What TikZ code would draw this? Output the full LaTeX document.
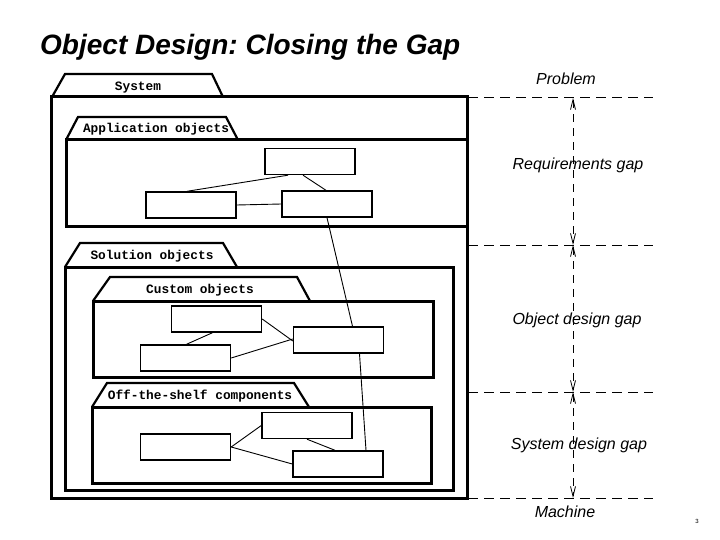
\documentclass[tikz,border=0pt]{standalone}
\usepackage{fontspec}
\setmainfont{Liberation Sans}
\newfontfamily\pkgfont{Liberation Mono}
\usetikzlibrary{arrows.meta}
\frenchspacing
\begin{document}
\begin{tikzpicture}[x=1pt,y=-1pt,
  pkg/.style={line width=3pt, line join=miter},
  tab/.style={line width=2.2pt, line join=miter},
  pkglabel/.style={font=\pkgfont\bfseries\fontsize{12.8}{15}\selectfont, inner sep=0pt},
  obj/.style={draw, line width=1.4pt, minimum width=90pt, minimum height=26pt, inner sep=0pt, fill=white},
  link/.style={line width=0.9pt},
  level/.style={line width=1pt, dash pattern=on 10pt off 6pt},
  gapline/.style={line width=0.8pt, dash pattern=on 8pt off 6pt, {Straight Barb[length=10pt,width=5pt]}-{Straight Barb[length=10pt,width=5pt]}},
  gaplabel/.style={font=\itshape\fontsize{16}{18}\selectfont, inner sep=1pt}]
\useasboundingbox (0,0) rectangle (720,540);

% title
\node[anchor=west, font=\bfseries\itshape\fontsize{28}{30}\selectfont, inner sep=0pt] (title) at (40,47) {Object Design: Closing the Gap};

% System package
\draw[tab] (52,97) -- (65,74) -- (212,74) -- (223,97);
\draw[pkg] (51,97) rectangle (467,498);
\node[pkglabel] (lsys) at (138,88) {System};

% Application objects package
\draw[tab] (66,140) -- (78,117) -- (226,117) -- (238,140);
\draw[pkg] (66,140) rectangle (467,227);
\node[pkglabel] (lapp) at (156,129) {Application objects};

% Solution objects package
\draw[tab] (65,267) -- (80,243) -- (223,243) -- (237,267);
\draw[pkg] (65,267) rectangle (453,490);
\node[pkglabel] (lsol) at (152,256) {Solution objects};

% Custom objects package
\draw[tab] (93,301) -- (110,277) -- (297,277) -- (310,301);
\draw[pkg] (93,301) rectangle (433,377);
\node[pkglabel] (lcus) at (200,290) {Custom objects};

% Off-the-shelf package
\draw[tab] (92,407) -- (107,383) -- (294,383) -- (309,407);
\draw[pkg] (92,407) rectangle (431,483);
\node[pkglabel] (loff) at (200,396) {Off-the-shelf components};

% application objects
\node[obj] (aT) at (310,161.5) {};
\node[obj] (aL) at (191,205) {};
\node[obj] (aR) at (327,204) {};
% custom objects
\node[obj] (cA) at (216.5,319) {};
\node[obj] (cB) at (185.5,358) {};
\node[obj] (cC) at (338.5,340) {};
% off-the-shelf objects
\node[obj] (oD) at (185.5,447) {};
\node[obj] (oE) at (307,425.5) {};
\node[obj] (oF) at (338,464) {};

% links
\draw[link] ([xshift=-4pt]aL.north) -- ([xshift=-22pt]aT.south);
\draw[link] ([xshift=-7pt]aT.south) -- ([xshift=-1pt]aR.north);
\draw[link] (aL.east) -- (aR.west);
\draw[link] (aR.south) -- ([xshift=14pt]cC.north);
\draw[link] (cA.east) -- ([yshift=-1pt]cC.west);
\draw[link] ([xshift=1pt]cB.north) -- ([xshift=-4pt]cA.south);
\draw[link] (cB.east) -- ([yshift=1pt]cC.west);
\draw[link] ([xshift=21pt]cC.south) -- ([xshift=28pt]oF.north);
\draw[link] (oD.east) -- (oE.west);
\draw[link] (oD.east) -- (oF.west);
\draw[link] (oE.south) -- ([xshift=-3pt]oF.north);

% level lines
\coordinate (p0) at (573,98);
\coordinate (p1) at (573,245);
\coordinate (p2) at (573,392);
\coordinate (p3) at (573,498);
\draw[level] (468,98) -- (653,98);
\draw[level] (468,245) -- (653,245);
\draw[level] (468,392) -- (653,392);
\draw[level] (468,498) -- (653,498);
\draw[gapline] (p0) -- (p1);
\draw[gapline] (p1) -- (p2);
\draw[gapline] (p2) -- (p3);

% gap labels
\node[gaplabel] (lprob) at (566,79) {Problem};
\node[gaplabel] (lreq) at (578,165) {Requirements gap};
\node[gaplabel] (lobj) at (577,320) {Object design gap};
\node[gaplabel] (lsd) at (579,445) {System design gap};
\node[gaplabel] (lmach) at (565,512) {Machine};

\node[font=\fontsize{6}{7}\selectfont, inner sep=0pt] (pnum) at (697,521) {3};
\end{tikzpicture}
\end{document}
